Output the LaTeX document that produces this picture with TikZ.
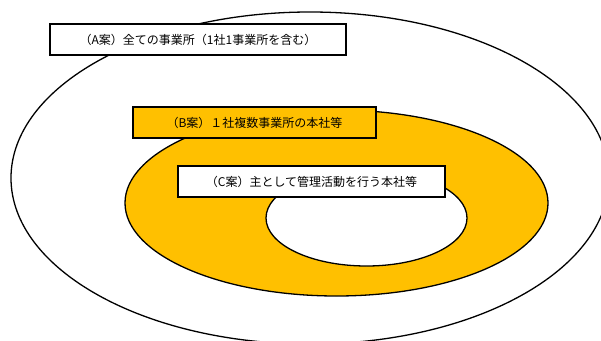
\documentclass[tikz,border=0pt]{standalone}
\usepackage{fontspec}
\setmainfont{Noto Sans CJK JP}
\definecolor{gold}{HTML}{FFC000}
\tikzset{
  ring/.style={draw=black, line width=1.3pt},
  label box/.style={draw=black, line width=1.6pt, rectangle, inner sep=0pt,
    minimum height=31.5pt, font=\fontsize{12pt}{14pt}\selectfont, text=black},
}
\begin{document}
\begin{tikzpicture}[x=1pt,y=-1pt]
\useasboundingbox (0,0) rectangle (601,340);
\clip (0,0) rectangle (601,340);
\fill[white] (0,0) rectangle (601,340);
% outer ellipse (A)
\draw[ring, fill=white] (310,178) ellipse [x radius=299pt, y radius=166pt];
% orange ring (B)
\draw[ring, fill=gold] (336.5,203) ellipse [x radius=211.5pt, y radius=93pt];
% inner white ellipse (C)
\draw[ring, fill=white] (366.5,218) ellipse [x radius=100.5pt, y radius=48pt];
% label boxes
\node[label box, fill=white, minimum width=296.5pt] (boxA) at (198,39.5) {（A案）全ての事業所（1社1事業所を含む）};
\node[label box, fill=gold, minimum width=243.5pt] (boxB) at (254.5,122.5) {（B案）１社複数事業所の本社等};
\node[label box, fill=white, minimum width=267.5pt] (boxC) at (311.5,181.5) {（C案）主として管理活動を行う本社等};
\end{tikzpicture}
\end{document}
